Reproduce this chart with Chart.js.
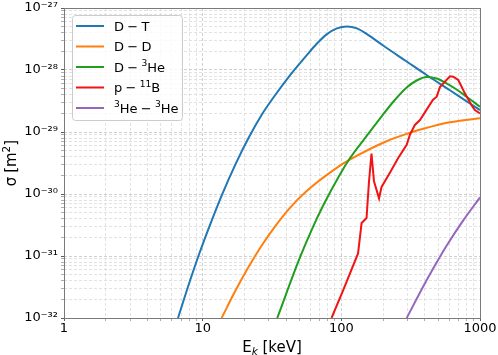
<!DOCTYPE html>
<html>
<head>
<meta charset="utf-8">
<script src="https://cdn.jsdelivr.net/npm/chart.js@4/dist/chart.umd.min.js"></script>
<style>
  html, body { margin: 0; padding: 0; background: #fff; }
</style>
</head>
<body>
<canvas id="chartViz" width="498" height="355"></canvas>
<script>
// energies in keV, cross sections in m^2
var dtE = [6.64, 8.1, 9.56, 11.5, 13.8, 17.4, 21.6, 26.8, 32.1, 42.6, 56.5, 66.7, 78.8, 93, 109.7, 129.6, 152, 200, 296, 412, 607, 846, 1000];
var dtS = [1e-32, 3.98e-32, 1.17e-31, 3.52e-31, 9.8e-31, 3.15e-30, 8.3e-30, 1.93e-29, 3.5e-29, 8.2e-29, 1.75e-28, 2.67e-28, 3.79e-28, 4.69e-28, 5.04e-28, 4.69e-28, 3.82e-28, 2.48e-28, 1.37e-28, 8.3e-29, 4.71e-29, 2.88e-29, 2.26e-29];

var ddE = [13.7, 17.1, 21.2, 26.3, 32.7, 42.6, 56.5, 97.7, 115, 212, 312, 389, 607, 1000];
var ddS = [1e-32, 2.67e-32, 6.4e-32, 1.41e-31, 2.85e-31, 5.99e-31, 1.13e-30, 2.87e-30, 3.59e-30, 7.1e-30, 9.7e-30, 1.13e-29, 1.44e-29, 1.67e-29];

var dheE = [34.5, 50.3, 61.7, 74.1, 97.7, 115, 144, 196, 243, 296, 349, 412, 487, 574, 678, 800, 1000];
var dheS = [1e-32, 9.46e-32, 2.77e-31, 6.57e-31, 2.07e-30, 3.74e-30, 7.35e-30, 1.81e-29, 3.28e-29, 5.22e-29, 6.77e-29, 7.71e-29, 7.3e-29, 6.1e-29, 4.84e-29, 3.71e-29, 2.56e-29];

var pbE = [85, 103, 132, 140, 152, 158, 165, 172, 187, 195, 224, 257, 296, 312, 339, 369, 457, 487, 514, 607, 641, 697, 778, 869, 919, 1000];
var pbS = [1e-32, 2.8e-32, 1.1e-31, 3.4e-31, 4.1e-31, 1.5e-30, 4.5e-30, 1.6e-30, 8.5e-31, 1.3e-30, 2.2e-30, 3.8e-30, 6.2e-30, 9e-30, 1.3e-29, 1.56e-29, 3.3e-29, 3.7e-29, 5.3e-29, 7.9e-29, 7.8e-29, 6.9e-29, 4.2e-29, 2.7e-29, 2.26e-29, 2.0e-29];

var hhE = [296, 401, 481, 574, 757, 1000];
var hhS = [1e-32, 3.63e-32, 7.48e-32, 1.46e-31, 3.75e-31, 8.8e-31];

var seriesNames = ['D − T', 'D − D', 'D − ³He', 'p − ¹¹B', '³He − ³He'];
var seriesColors = ['#1f77b4', '#ff7f0e', '#1f9e1f', '#f01414', '#9467bd'];

var xTickLabels = ['1', '10', '100', '1000'];
var yTickLabels = ['10⁻³²', '10⁻³¹', '10⁻³⁰', '10⁻²⁹', '10⁻²⁸', '10⁻²⁷'];

var FONT = '"DejaVu Sans", sans-serif';

function toPoints(xs, ys) {
    return xs.map(function (x, i) { return {x: x, y: ys[i]}; });
}

function logTicks(lo, hi) {
    var t = [];
    for (var e = lo; e < hi; e++) {
        for (var m = 1; m < 10; m++) {
            t.push({value: m * Math.pow(10, e), major: m === 1});
        }
    }
    t.push({value: Math.pow(10, hi), major: true});
    return t;
}

var supMap = {'⁰':'0','¹':'1','²':'2','³':'3','⁴':'4','⁵':'5','⁶':'6','⁷':'7','⁸':'8','⁹':'9','⁻':'−'};

// draws text with raised superscripts, returns width
function drawRich(ctx, text, x, base, size, dry) {
    var runs = [];
    Array.from(text).forEach(function (ch) {
        var s = ch in supMap;
        if (!runs.length || runs[runs.length - 1].sup !== s) runs.push({sup: s, t: ''});
        runs[runs.length - 1].t += s ? supMap[ch] : ch;
    });
    var x0 = x;
    runs.forEach(function (r) {
        var fs = r.sup ? size * 0.7 : size;
        ctx.font = fs + 'px ' + FONT;
        r.t.split(' ').forEach(function (p, j) {
            if (j > 0) x += size * 0.25;
            if (!dry) ctx.fillText(p, x, r.sup ? base - size * 0.42 : base);
            x += ctx.measureText(p).width;
        });
    });
    return x - x0;
}

var decor = {
    id: 'decor',
    afterDraw: function (chart) {
        var ctx = chart.ctx, a = chart.chartArea;
        ctx.save();
        // frame
        ctx.strokeStyle = '#7a7a7a';
        ctx.lineWidth = 1;
        ctx.strokeRect(Math.round(a.left) + 0.5, Math.round(a.top) + 0.5, Math.round(a.right - a.left), Math.round(a.bottom - a.top));

        // legend
        var bx = 72, by = 15, bw = 110, bh = 105;
        ctx.beginPath();
        ctx.roundRect(bx + 0.5, by + 0.5, bw, bh, 3);
        ctx.fillStyle = 'rgba(255,255,255,0.8)';
        ctx.fill();
        ctx.strokeStyle = '#cccccc';
        ctx.stroke();
        ctx.fillStyle = '#000';
        ctx.textBaseline = 'alphabetic';
        ctx.textAlign = 'left';
        seriesNames.forEach(function (name, i) {
            var y = 26 + i * 20.5;
            ctx.strokeStyle = seriesColors[i];
            ctx.lineWidth = 2;
            ctx.beginPath();
            ctx.moveTo(76, y);
            ctx.lineTo(104, y);
            ctx.stroke();
            drawRich(ctx, name, 114, y + 4.7, 13);
        });

        // x title: E_k [keV]
        var size = 15, base = 351.5, cx = (a.left + a.right) / 2;
        ctx.font = size + 'px ' + FONT;
        var wE = ctx.measureText('E').width;
        ctx.font = 'italic ' + (size * 0.7) + 'px ' + FONT;
        var wk = ctx.measureText('k').width;
        ctx.font = size + 'px ' + FONT;
        var wRest = ctx.measureText(' [keV]').width;
        var x = cx - (wE + wk + wRest) / 2;
        ctx.fillText('E', x, base);
        ctx.font = 'italic ' + (size * 0.7) + 'px ' + FONT;
        ctx.fillText('k', x + wE, base + 3);
        ctx.font = size + 'px ' + FONT;
        ctx.fillText(' [keV]', x + wE + wk, base);

        // y title: sigma [m^2]
        ctx.translate(16, (a.top + a.bottom) / 2);
        ctx.rotate(-Math.PI / 2);
        var w = drawRich(ctx, 'σ [m²]', 0, 0, size, true);
        drawRich(ctx, 'σ [m²]', -w / 2, 0, size);
        ctx.restore();
    }
};

function makeSet(i, xs, ys, smooth) {
    return {
        label: seriesNames[i],
        data: toPoints(xs, ys),
        borderColor: seriesColors[i],
        backgroundColor: seriesColors[i],
        borderWidth: 2,
        pointRadius: 0,
        fill: false,
        order: 5 - i,
        cubicInterpolationMode: smooth ? 'monotone' : 'default',
        tension: 0
    };
}

var gridColor = function (c) { return c.tick && c.tick.major ? '#c4c4c4' : '#dadada'; };
var tickColor = function (c) { return c.tick && c.tick.major ? '#333' : '#999'; };

var config = {
    type: 'line',
    data: {
        datasets: [
            makeSet(0, dtE, dtS, true),
            makeSet(1, ddE, ddS, true),
            makeSet(2, dheE, dheS, true),
            makeSet(3, pbE, pbS, false),
            makeSet(4, hhE, hhS, true)
        ]
    },
    options: {
        responsive: false,
        animation: false,
        devicePixelRatio: 1,
        layout: { padding: { left: 0, right: 18, top: 8, bottom: 0 } },
        plugins: { legend: { display: false }, tooltip: { enabled: false } },
        scales: {
            x: {
                type: 'logarithmic',
                min: 1, max: 1000,
                afterBuildTicks: function (s) { s.ticks = logTicks(0, 3); },
                afterFit: function (s) { s.height = 37; s.paddingLeft = 0; s.paddingRight = 0; },
                ticks: {
                    autoSkip: false, maxRotation: 0, minRotation: 0, padding: 0,
                    color: '#000', font: { family: FONT, size: 13 },
                    callback: function (v, i, t) {
                        return t[i].major ? xTickLabels[Math.round(Math.log10(v))] : '';
                    }
                },
                grid: { color: gridColor, lineWidth: 0.8, tickLength: 3, tickColor: tickColor, tickWidth: 0.8 },
                border: { display: false, dash: [3, 2] }
            },
            y: {
                type: 'logarithmic',
                min: 1e-32, max: 1e-27,
                afterBuildTicks: function (s) { s.ticks = logTicks(-32, -27); },
                afterFit: function (s) { s.width = 64; s.paddingTop = 0; s.paddingBottom = 0; },
                ticks: {
                    autoSkip: false, padding: 3,
                    color: '#000', font: { family: FONT, size: 13 },
                    callback: function (v, i, t) {
                        return t[i].major ? yTickLabels[Math.round(Math.log10(v)) + 32] : '';
                    }
                },
                grid: { color: gridColor, lineWidth: 0.8, tickLength: 3, tickColor: tickColor, tickWidth: 0.8 },
                border: { display: false, dash: [3, 2] }
            }
        }
    },
    plugins: [decor]
};

window.onload = function () {
    var context = document.getElementById('chartViz').getContext('2d');
    new Chart(context, config);
};
</script>
</body>
</html>
